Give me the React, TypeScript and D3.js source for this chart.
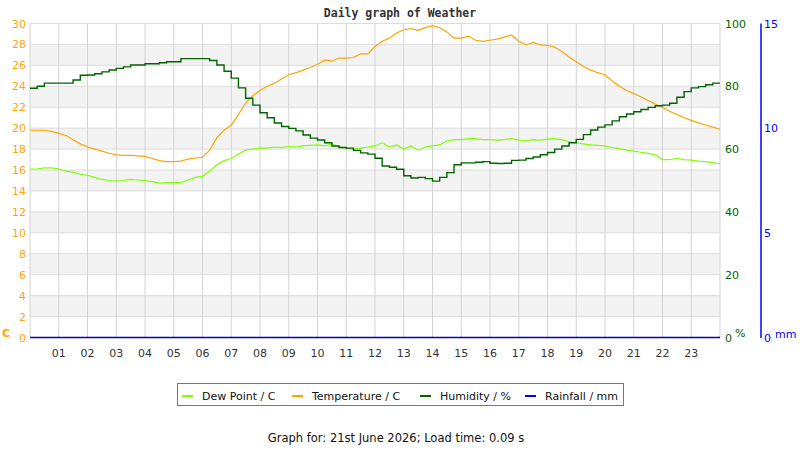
import React from "react";
import * as d3 from "d3";

const hours = d3.range(1, 24).map((h) => (h < 10 ? "0" + h : String(h)));
const tempTicks = d3.range(0, 31, 2);
const humTicks = [0, 20, 40, 60, 80, 100];
const rainTicks = [0, 5, 10, 15];

// readings every 15 minutes, 00:00 .. 24:00
const temperature = [
  19.8, 19.8, 19.8, 19.7, 19.5, 19.3, 18.9, 18.5, 18.2, 18.0, 17.8, 17.6,
  17.45, 17.4, 17.4, 17.35, 17.3, 17.1, 16.9, 16.8, 16.8, 16.85, 17.05, 17.15,
  17.2, 17.9, 19.1, 19.8, 20.3, 21.3, 22.4, 23.1, 23.6, 24.0, 24.3, 24.7,
  25.1, 25.3, 25.55, 25.8, 26.1, 26.5, 26.4, 26.7, 26.7, 26.75, 27.1, 27.1,
  27.8, 28.3, 28.6, 29.1, 29.4, 29.5, 29.35, 29.6, 29.8, 29.6, 29.2, 28.6,
  28.6, 28.8, 28.4, 28.3, 28.4, 28.5, 28.7, 28.9, 28.3, 27.95, 28.2, 27.95,
  27.9, 27.75, 27.3, 26.8, 26.35, 25.9, 25.55, 25.3, 25.1, 24.5, 24.0, 23.6,
  23.3, 23.0, 22.65, 22.3, 22.0, 21.6, 21.3, 21.0, 20.75, 20.5, 20.3, 20.1,
  19.9,
];
const dewPoint = [
  16.1, 16.1, 16.2, 16.2, 16.1, 15.9, 15.8, 15.6, 15.5, 15.3, 15.1, 15.0,
  14.95, 15.0, 15.1, 15.05, 15.0, 14.9, 14.75, 14.8, 14.8, 14.8, 15.05, 15.3,
  15.4, 15.9, 16.5, 16.9, 17.1, 17.5, 17.9, 18.0, 18.1, 18.1, 18.2, 18.15,
  18.25, 18.2, 18.3, 18.35, 18.4, 18.3, 18.5, 18.2, 18.1, 18.0, 18.1, 18.2,
  18.3, 18.6, 18.2, 18.4, 18.0, 18.3, 17.9, 18.2, 18.3, 18.4, 18.8, 18.9,
  18.9, 19.0, 19.0, 18.9, 18.9, 18.85, 18.9, 19.0, 18.85, 18.8, 18.9, 18.85,
  18.95, 19.0, 18.9, 18.7, 18.6, 18.5, 18.4, 18.35, 18.3, 18.15, 18.05, 17.9,
  17.8, 17.7, 17.6, 17.45, 17.0, 17.0, 17.1, 17.0, 16.95, 16.85, 16.8, 16.7,
  16.6,
];
const humidity = [
  79.4, 80.0, 81.0, 81.0, 81.0, 81.0, 82.0, 83.5, 83.6, 84.0, 84.6, 85.2,
  85.7, 86.2, 86.8, 86.8, 87.2, 87.2, 87.5, 87.8, 87.8, 88.8, 88.8, 88.8,
  88.8, 88.2, 86.8, 84.8, 82.6, 79.5, 76.2, 74.0, 71.6, 70.0, 68.3, 67.2,
  66.6, 65.8, 64.5, 63.5, 62.9, 62.0, 61.0, 60.5, 60.3, 59.6, 58.8, 58.4,
  57.1, 54.6, 54.2, 53.6, 51.5, 50.8, 51.0, 50.6, 49.8, 51.0, 52.5, 55.0,
  55.6, 55.6, 55.8, 56.0, 55.5, 55.4, 55.5, 56.4, 56.5, 57.0, 57.5, 58.2,
  58.9, 60.0, 61.0, 62.0, 63.1, 64.6, 66.1, 67.0, 67.7, 69.0, 70.3, 71.2,
  71.9, 72.6, 73.3, 73.8, 74.0, 74.6, 76.5, 78.3, 79.5, 79.9, 80.5, 81.0,
  81.0,
];
const rainfall = [0, 0, 0, 0, 0, 0, 0, 0, 0, 0, 0, 0, 0, 0, 0, 0, 0, 0, 0, 0, 0, 0, 0, 0, 0];

const legendItems = [
  { label: "Dew Point / C", color: "#7FFF00" },
  { label: "Temperature / C", color: "#FFA500" },
  { label: "Humidity / %", color: "#006400" },
  { label: "Rainfall / mm", color: "#0000FF" },
];

export default function App() {
  const W = 800, H = 450;
  const x = d3.scaleLinear().domain([0, 24]).range([30, 720]);
  const yT = d3.scaleLinear().domain([0, 30]).range([337.5, 23.5]);
  const yH = d3.scaleLinear().domain([0, 100]).range([337.5, 23.5]);
  const yR = d3.scaleLinear().domain([0, 15]).range([337.5, 23.5]);
  const t = (i: number) => i / 4;

  const lineT = d3.line<number>().x((_, i) => x(t(i))).y((d) => yT(d));
  const lineH = d3.line<number>().x((_, i) => x(t(i))).y((d) => yH(d)).curve(d3.curveStepAfter);
  const lineR = d3.line<number>().x((_, i) => x(i)).y((d) => yR(d));

  const font = "DejaVu Sans, sans-serif";
  const bands = d3.range(0, 15);
  const legendX = [182, 292, 420, 525];

  return (
    <svg width={W} height={H} style={{ position: "absolute", left: 0, top: 0, background: "#fff" }}>
      <text x={400} y={17} textAnchor="middle" fontFamily="DejaVu Sans Mono, monospace" fontWeight="bold" fontSize={11.5} fill="#333">
        Daily graph of Weather
      </text>
      {bands.map((i) => (
        <rect key={i} x={30} width={690} y={yT(2 * i + 2)} height={yT(2 * i) - yT(2 * i + 2)} fill={i % 2 === 1 ? "#f3f3f3" : "#ffffff"} />
      ))}
      {tempTicks.map((v) => (
        <line key={"h" + v} x1={30} x2={720} y1={yT(v)} y2={yT(v)} stroke="#dcdcdc" strokeWidth={1} />
      ))}
      {d3.range(1, 24).map((h) => (
        <line key={"v" + h} x1={x(h)} x2={x(h)} y1={23.5} y2={337.5} stroke="#d3d3d3" strokeWidth={1} />
      ))}
      <line x1={30} x2={30} y1={23.5} y2={337.5} stroke="#d3d3d3" />
      <line x1={720} x2={720} y1={23.5} y2={337.5} stroke="#d3d3d3" />

      <path d={lineT(dewPoint) || ""} fill="none" stroke="#7FFF00" strokeWidth={1.2} />
      <path d={lineT(temperature) || ""} fill="none" stroke="#FFA500" strokeWidth={1.2} />
      <path d={lineH(humidity) || ""} fill="none" stroke="#006400" strokeWidth={1.4} />
      <path d={lineR(rainfall) || ""} fill="none" stroke="#0000CC" strokeWidth={1.6} />

      {tempTicks.map((v) => (
        <text key={"tl" + v} x={26} y={yT(v) + 4} textAnchor="end" fontFamily={font} fontSize={11} fill="#FFA500">{v}</text>
      ))}
      <text x={2} y={337} fontFamily={font} fontWeight="bold" fontSize={11} fill="#FFA500">C</text>

      {humTicks.map((v) => (
        <text key={"hl" + v} x={725} y={yH(v) + 4} fontFamily={font} fontSize={11} fill="#006400">{v}</text>
      ))}
      <text x={735} y={337} fontFamily={font} fontSize={11} fill="#006400">%</text>

      <line x1={761} x2={761} y1={23.5} y2={338} stroke="#0000FF" strokeWidth={1.5} />
      {rainTicks.map((v) => (
        <text key={"rl" + v} x={764} y={yR(v) + 4} fontFamily={font} fontSize={11} fill="#0000FF">{v}</text>
      ))}
      <text x={775} y={338} fontFamily={font} fontSize={11} fill="#0000FF">mm</text>

      {hours.map((lab, i) => (
        <text key={lab} x={x(i + 1)} y={357} textAnchor="middle" fontFamily={font} fontSize={11} fill="#333">{lab}</text>
      ))}

      <rect x={177.5} y={383.5} width={446} height={22} fill="#fff" stroke="#777" strokeWidth={1} />
      {legendItems.map((it, i) => (
        <g key={it.label}>
          <line x1={legendX[i]} x2={legendX[i] + 11} y1={396} y2={396} stroke={it.color} strokeWidth={2} />
          <text x={legendX[i] + 20} y={400} fontFamily={font} fontSize={11} fill="#111">{it.label}</text>
        </g>
      ))}
      <text x={396} y={442} textAnchor="middle" fontFamily={font} fontSize={11.5} fill="#111">
        Graph for: 21st June 2026; Load time: 0.09 s
      </text>
    </svg>
  );
}
